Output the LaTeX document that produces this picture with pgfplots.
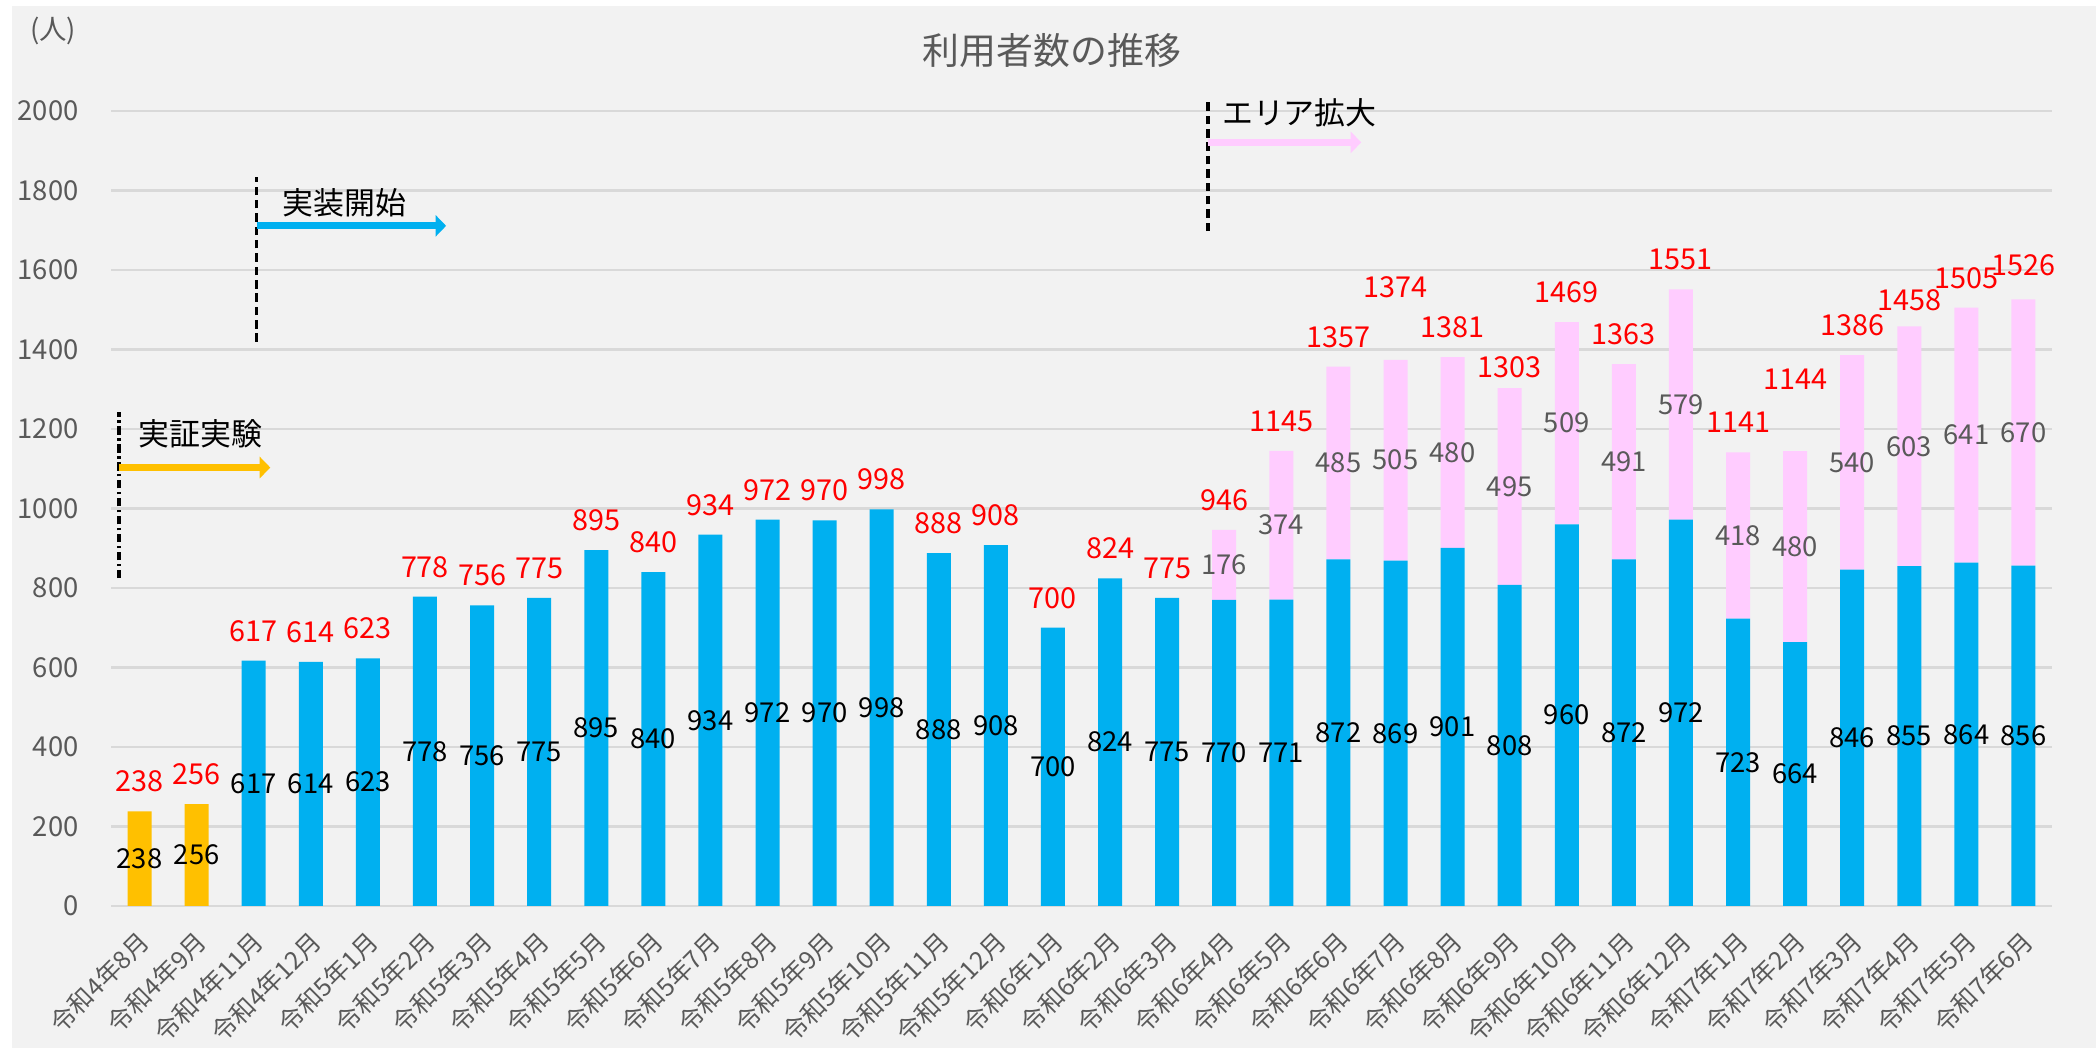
\documentclass[border=0pt]{standalone}
\usepackage{pgfplots}
\pgfplotsset{compat=1.18}
\usepackage{pgfplotstable}
\usetikzlibrary{arrows.meta}
\usepackage{fontspec}
\setmainfont{Noto Sans CJK JP}
\definecolor{bgc}{HTML}{F2F2F2}
\definecolor{gridc}{HTML}{D9D9D9}
\definecolor{txtc}{HTML}{595959}
\definecolor{blu}{HTML}{00B0F0}
\definecolor{yel}{HTML}{FFC000}
\definecolor{pnk}{HTML}{FFCCFF}
\definecolor{redc}{HTML}{FF0000}

\pgfplotstableread{
x y b p adj t
0 238 0 0 0 238
1 256 0 0 0 256
2 0 617 0 0 617
3 0 614 0 0 614
4 0 623 0 0 623
5 0 778 0 0 778
6 0 756 0 0 756
7 0 775 0 0 775
8 0 895 0 0 895
9 0 840 0 0 840
10 0 934 0 0 934
11 0 972 0 0 972
12 0 970 0 0 970
13 0 998 0 0 998
14 0 888 0 0 888
15 0 908 0 0 908
16 0 700 0 0 700
17 0 824 0 0 824
18 0 775 0 0 775
19 0 770 176 0 946
20 0 771 374 0 1145
21 0 872 485 0 1357
22 0 869 505 108 1374
23 0 901 480 0 1381
24 0 808 495 -22 1303
25 0 960 509 0 1469
26 0 872 491 0 1363
27 0 972 579 0 1551
28 0 723 418 0 1141
29 0 664 480 106 1144
30 0 846 540 0 1386
31 0 855 603 -9 1458
32 0 864 641 0 1505
33 0 856 670 12 1526
}\data

\pgfplotsset{
  common/.style={
    at={(1.11cm,1.42cm)}, anchor=south west, scale only axis,
    width=19.41cm, height=7.95cm,
    xmin=-0.5, xmax=33.5, ymin=0, ymax=2000,
    clip=false,
  }
}

\begin{document}
\begin{tikzpicture}
\useasboundingbox (0,0) rectangle (20.96,10.48);
\fill[bgc] (0.12,0) rectangle (20.96,10.42);
\node[text=txtc, font=\fontsize{10.5}{12}\selectfont] at (10.52,9.97) {利用者数の推移};
\node[text=txtc, font=\fontsize{7.8}{9}\selectfont] at (0.53,10.17) {(人)};

\begin{axis}[common,
  ybar stacked, bar width=0.24cm,
  axis line style={draw=none},
  major tick length=0pt,
  ytick={0,200,...,2000},
  ymajorgrids, grid style={draw=gridc, line width=0.6pt},
  /pgf/number format/1000 sep={},
  /pgf/number format/assume math mode=true,
  yticklabel style={font=\fontsize{7.8}{9}\selectfont, text=txtc, xshift=-0.2cm},
  xtick={0,...,33},
  xticklabels={令和4年8月,令和4年9月,令和4年11月,令和4年12月,令和5年1月,令和5年2月,令和5年3月,令和5年4月,令和5年5月,令和5年6月,令和5年7月,令和5年8月,令和5年9月,令和5年10月,令和5年11月,令和5年12月,令和6年1月,令和6年2月,令和6年3月,令和6年4月,令和6年5月,令和6年6月,令和6年7月,令和6年8月,令和6年9月,令和6年10月,令和6年11月,令和6年12月,令和7年1月,令和7年2月,令和7年3月,令和7年4月,令和7年5月,令和7年6月},
  xticklabel style={font=\fontsize{7.1}{9}\selectfont, text=txtc, inner sep=0pt, xshift=-0.03cm, yshift=-0.22cm, rotate=45, anchor=north east},
  axis background/.style={fill=none},
]
\addplot[fill=yel, draw=none] table[x=x, y=y] {\data};
\addplot[fill=blu, draw=none] table[x=x, y=b] {\data};
\addplot[fill=pnk, draw=none] table[x=x, y=p] {\data};
\end{axis}

\begin{axis}[common, axis lines=none, ticks=none,
  nodes near coords={\pgfplotspointmeta},
  point meta=explicit symbolic,
  nodes near coords style={anchor=center, inner sep=0pt, font=\fontsize{7.8}{9}\selectfont},
]
% yellow inner labels
\addplot[draw=none, mark=none, skip coords between index={2}{34},
  nodes near coords style={text=black}]
  table[x=x, y expr=\thisrow{y}/2, meta=y] {\data};
% blue inner labels
\addplot[draw=none, mark=none, skip coords between index={0}{2},
  nodes near coords style={text=black}]
  table[x=x, y expr=\thisrow{b}/2, meta=b] {\data};
% pink inner labels
\addplot[draw=none, mark=none, skip coords between index={0}{19},
  nodes near coords style={text=txtc}]
  table[x=x, y expr=\thisrow{b}+\thisrow{p}/2, meta=p] {\data};
% totals
\addplot[draw=none, mark=none,
  nodes near coords style={text=redc, font=\fontsize{8.2}{9}\selectfont}]
  table[x=x, y expr=\thisrow{t}+75+\thisrow{adj}, meta=t] {\data};

% annotations
\draw[black, line width=1pt, dash pattern=on 2.4pt off 1pt on 0.7pt off 1pt] (axis cs:-0.36,825) -- (axis cs:-0.36,1242);
\draw[yel, line width=2pt, -{Triangle[length=3pt,width=6pt]}] (axis cs:-0.36,1103) -- (axis cs:2.29,1103);
\node[anchor=west, inner sep=0pt, font=\fontsize{8.8}{10}\selectfont] at (axis cs:-0.03,1187) {実証実験};

\draw[black, line width=1pt, dash pattern=on 2.4pt off 1.4pt] (axis cs:2.05,1419) -- (axis cs:2.05,1834);
\draw[blu, line width=2pt, -{Triangle[length=3pt,width=6pt]}] (axis cs:2.05,1711) -- (axis cs:5.37,1711);
\node[anchor=west, inner sep=0pt, font=\fontsize{8.8}{10}\selectfont] at (axis cs:2.49,1770) {実装開始};

\draw[black, line width=1pt, dash pattern=on 2.4pt off 1.4pt] (axis cs:18.72,1698) -- (axis cs:18.72,2022);
\draw[pnk, line width=2pt, -{Triangle[length=3pt,width=6pt]}] (axis cs:18.72,1921) -- (axis cs:21.4,1921);
\node[anchor=west, inner sep=0pt, font=\fontsize{8.8}{10}\selectfont] at (axis cs:18.95,1996) {エリア拡大};
\end{axis}
\end{tikzpicture}
\end{document}
